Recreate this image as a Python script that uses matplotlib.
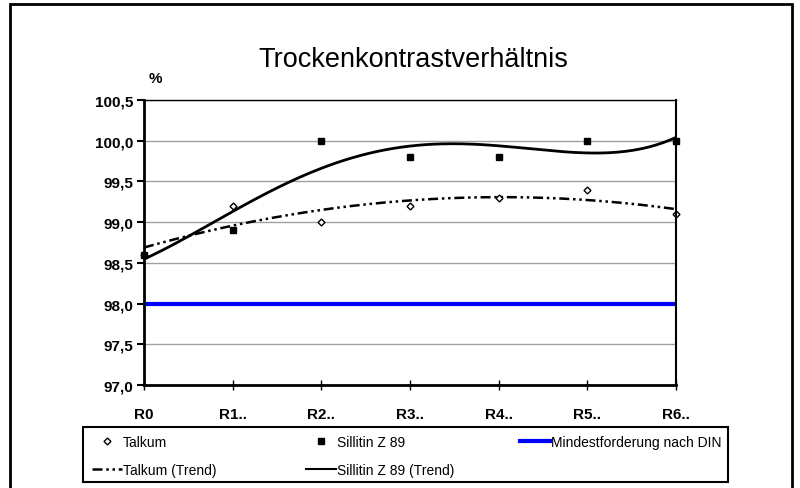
import matplotlib.pyplot as plt
import numpy as np
from matplotlib.lines import Line2D
from matplotlib.patches import Rectangle

plt.rcParams['font.family'] = ['Liberation Sans', 'DejaVu Sans']

# Data
categories = ["R0", "R1..", "R2..", "R3..", "R4..", "R5..", "R6.."]
talkum = [98.6, 99.2, 99.0, 99.2, 99.3, 99.4, 99.1]
sillitin = [98.6, 98.9, 100.0, 99.8, 99.8, 100.0, 100.0]
din_min = 98.0
y_ticks = [97.0, 97.5, 98.0, 98.5, 99.0, 99.5, 100.0, 100.5]

x = np.arange(len(categories))
xs = np.linspace(0, len(categories) - 1, 200)

# polynomial trend lines (like the Excel trend)
talkum_trend = np.polyval(np.polyfit(x, talkum, 2), xs)
sillitin_trend = np.polyval(np.polyfit(x, sillitin, 4), xs)

dashdotdot = (0, (4, 1.5, 1, 1.5, 1, 1.5))

fig = plt.figure(figsize=(8, 4.89), dpi=100)
ax = fig.add_axes([144 / 800, (489 - 386) / 489, (676 - 144) / 800, (386 - 101) / 489])

ax.set_ylim(97.0, 100.5)
ax.set_xlim(0, len(categories) - 1)
ax.set_yticks(y_ticks)
ax.set_yticklabels([f"{v:.1f}".replace(".", ",") for v in y_ticks],
                   fontsize=11, fontweight='bold')
ax.set_xticks(x)
ax.set_xticklabels(categories, fontsize=11, fontweight='bold')
ax.tick_params(axis='y', direction='out', length=5, width=1.5, pad=3)
ax.tick_params(axis='x', direction='inout', length=7, width=1, pad=12)
ax.grid(axis='y', color='#a0a0a0', linewidth=1)
ax.set_axisbelow(True)

for side in ['left', 'bottom']:
    ax.spines[side].set_linewidth(2)
ax.spines['right'].set_linewidth(1.5)
ax.spines['top'].set_linewidth(1)

ax.axhline(din_min, color='#0000ff', linewidth=3)
ax.plot(xs, talkum_trend, color='black', linewidth=1.8, linestyle=dashdotdot)
ax.plot(xs, sillitin_trend, color='black', linewidth=2)
ax.plot(x, talkum, linestyle='none', marker='D', markersize=3.5,
        markerfacecolor='white', markeredgecolor='black', markeredgewidth=1, clip_on=False)
ax.plot(x, sillitin, linestyle='none', marker='s', markersize=5,
        color='black', clip_on=False)

fig.text(413 / 800, 1 - 60 / 489, "Trockenkontrastverhältnis", fontsize=19.5,
         ha='center', va='center')
fig.text(155 / 800, 1 - 79 / 489, "%", fontsize=11, fontweight='bold',
         ha='center', va='center')

# outer frame and legend frame
fig.patches.append(Rectangle((10 / 800, -0.05), (792 - 10) / 800, 1.05 - 5 / 489,
                             transform=fig.transFigure, fill=False,
                             edgecolor='black', linewidth=2))
fig.patches.append(Rectangle((83 / 800, 1 - 483 / 489), (728 - 83) / 800, 55 / 489,
                             transform=fig.transFigure, fill=False,
                             edgecolor='black', linewidth=1.5))

# legend: three columns, placed like the original
columns = [
    ([Line2D([], [], linestyle='none', marker='D', markersize=3.5,
             markerfacecolor='white', markeredgecolor='black'),
      Line2D([], [], color='black', linewidth=1.8, linestyle=dashdotdot)],
     ["Talkum", "Talkum (Trend)"], 92),
    ([Line2D([], [], linestyle='none', marker='s', markersize=5, color='black'),
      Line2D([], [], color='black', linewidth=1.5)],
     ["Sillitin Z 89", "Sillitin Z 89 (Trend)"], 306),
    ([Line2D([], [], color='#0000ff', linewidth=3)],
     ["Mindestforderung nach DIN"], 520),
]
for handles, labels, x0 in columns:
    fig.legend(handles, labels, loc='upper left',
               bbox_to_anchor=(x0 / 800, 1 - 436 / 489), frameon=False,
               fontsize=10, handlelength=2.15, handletextpad=0.05,
               labelspacing=1.0, borderpad=0, borderaxespad=0)

plt.savefig("out.png", dpi=100)
